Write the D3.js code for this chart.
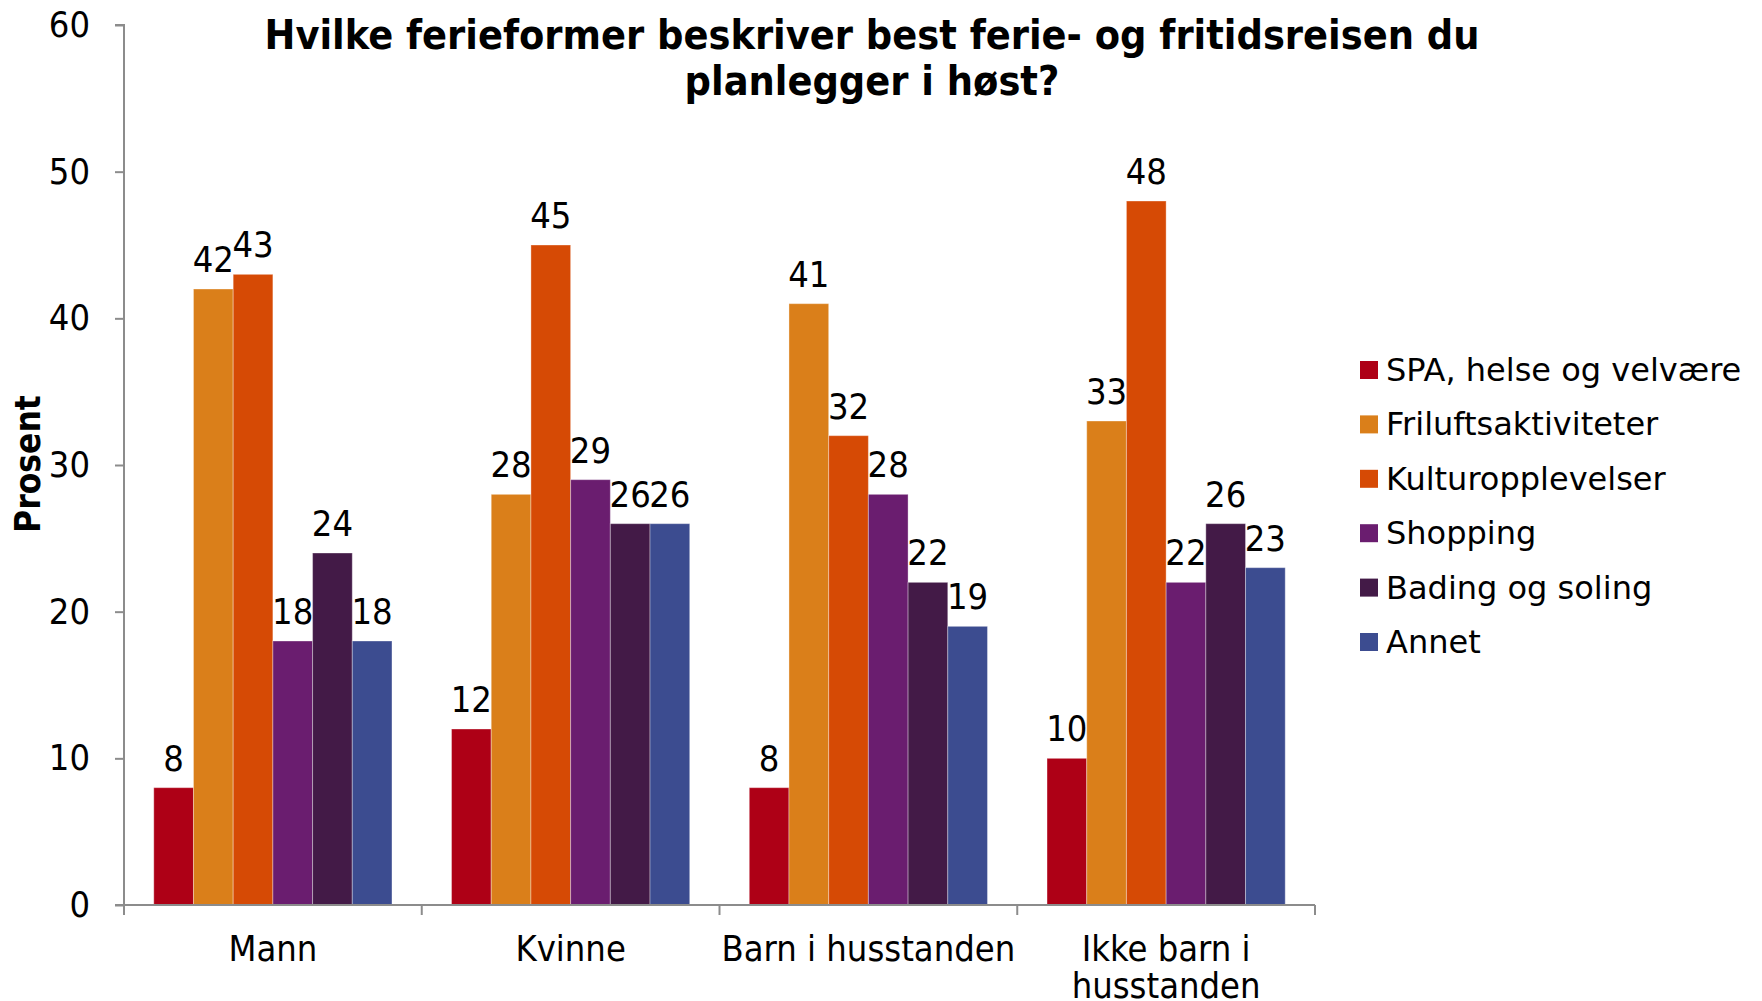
<!DOCTYPE html>
<html>
<head>
<meta charset="utf-8">
<script src="https://cdn.jsdelivr.net/npm/d3@7"></script>
<style>
  body { margin: 0; background: #fff; }
  svg text { font-family: "DejaVu Sans Condensed", "DejaVu Sans", sans-serif; fill: #000; }
  .legend text { font-family: "DejaVu Sans", sans-serif; }
</style>
</head>
<body>
<div class="chart"></div>
<script>
var categories = ['Mann', 'Kvinne', 'Barn i husstanden', 'Ikke barn i husstanden'];
var series = ['SPA, helse og velvære', 'Friluftsaktiviteter', 'Kulturopplevelser', 'Shopping', 'Bading og soling', 'Annet'];
var colors = ['#ae0016', '#da7f1a', '#d64a05', '#6a1d6f', '#431a47', '#3c4c90'];
// one row per series, values in category order
var spa = [8, 12, 8, 10];
var friluft = [42, 28, 41, 33];
var kultur = [43, 45, 32, 48];
var shopping = [18, 29, 28, 22];
var bading = [24, 26, 22, 26];
var annet = [18, 26, 19, 23];
var yTicks = [0, 10, 20, 30, 40, 50, 60];

var values = [spa, friluft, kultur, shopping, bading, annet];

var width = 1762, height = 1001;
var plot = { left: 124, right: 1315, top: 25, bottom: 905 };

var svg = d3.select('.chart')
  .append('svg')
  .attr('width', width)
  .attr('height', height);

var x = d3.scaleBand()
  .domain(categories)
  .range([plot.left, plot.right])
  .padding(0);

var xInner = d3.scaleBand()
  .domain(series)
  .range([0, x.bandwidth()])
  .paddingInner(0)
  .paddingOuter(0.75);

var y = d3.scaleLinear()
  .domain([0, 60])
  .range([plot.bottom, plot.top]);

var color = d3.scaleOrdinal().domain(series).range(colors);

var data = [];
categories.forEach(function (c, i) {
  series.forEach(function (s, j) {
    data.push({ cat: c, ser: s, value: values[j][i] });
  });
});

// bars
svg.append('g')
  .selectAll('rect')
  .data(data)
  .enter()
  .append('rect')
  .attr('x', d => x(d.cat) + xInner(d.ser))
  .attr('y', d => y(d.value))
  .attr('width', xInner.bandwidth())
  .attr('height', d => y(0) - y(d.value))
  .attr('fill', d => color(d.ser))
  .attr('stroke', 'rgba(255,255,255,0.35)')
  .attr('stroke-width', 1);

// data labels
svg.append('g')
  .selectAll('text')
  .data(data)
  .enter()
  .append('text')
  .attr('x', d => x(d.cat) + xInner(d.ser) + xInner.bandwidth() / 2)
  .attr('y', d => y(d.value) - 17)
  .attr('text-anchor', 'middle')
  .style('font-size', '36px')
  .text(d => d.value);

// y axis
var yAxis = svg.append('g')
  .attr('transform', 'translate(' + plot.left + ',0)')
  .call(d3.axisLeft(y).tickValues(yTicks).tickSize(9).tickPadding(25));
yAxis.selectAll('path, line').attr('stroke', '#8c8c8c').attr('stroke-width', 2);
yAxis.select('.domain').attr('d', 'M-9,' + plot.top + 'H0V' + plot.bottom + 'H-9');
yAxis.selectAll('text').style('font-size', '36px').attr('fill', '#000');

// x axis with ticks at category boundaries
var xAxis = svg.append('g')
  .attr('transform', 'translate(0,' + plot.bottom + ')');
xAxis.append('line')
  .attr('x1', plot.left)
  .attr('x2', plot.right)
  .attr('stroke', '#8c8c8c')
  .attr('stroke-width', 2);
var bounds = categories.map(c => x(c)).concat([x(categories[categories.length - 1]) + x.bandwidth()]);
xAxis.selectAll('.bound')
  .data(bounds)
  .enter()
  .append('line')
  .attr('x1', d => d)
  .attr('x2', d => d)
  .attr('y1', 0)
  .attr('y2', 10)
  .attr('stroke', '#8c8c8c')
  .attr('stroke-width', 2);

var catLines = {
  'Ikke barn i husstanden': ['Ikke barn i', 'husstanden']
};
xAxis.selectAll('.cat')
  .data(categories)
  .enter()
  .append('text')
  .attr('text-anchor', 'middle')
  .style('font-size', '36px')
  .each(function (d) {
    var lines = catLines[d] || [d];
    var t = d3.select(this);
    lines.forEach(function (l, i) {
      t.append('tspan')
        .attr('x', x(d) + x.bandwidth() / 2)
        .attr('y', 56 + i * 37)
        .text(l);
    });
  });

// y axis title
svg.append('text')
  .attr('transform', 'translate(40,464) rotate(-90)')
  .attr('text-anchor', 'middle')
  .style('font-size', '35px')
  .style('font-weight', 'bold')
  .text('Prosent');

// title
var title = svg.append('text')
  .attr('text-anchor', 'middle')
  .style('font-size', '41px')
  .style('font-weight', 'bold');
title.append('tspan').attr('x', 872).attr('y', 49).text('Hvilke ferieformer beskriver best ferie- og fritidsreisen du');
title.append('tspan').attr('x', 872).attr('y', 95).text('planlegger i høst?');

// legend
var legend = svg.append('g')
  .attr('class', 'legend')
  .selectAll('g')
  .data(series)
  .enter()
  .append('g')
  .attr('transform', (d, i) => 'translate(1360,' + (370 + i * 54.4) + ')');
legend.append('rect')
  .attr('x', 0)
  .attr('y', -9)
  .attr('width', 18)
  .attr('height', 18)
  .attr('fill', d => color(d));
legend.append('text')
  .attr('x', 26)
  .attr('y', 11)
  .style('font-size', '32px')
  .text(d => d);
</script>
</body>
</html>
